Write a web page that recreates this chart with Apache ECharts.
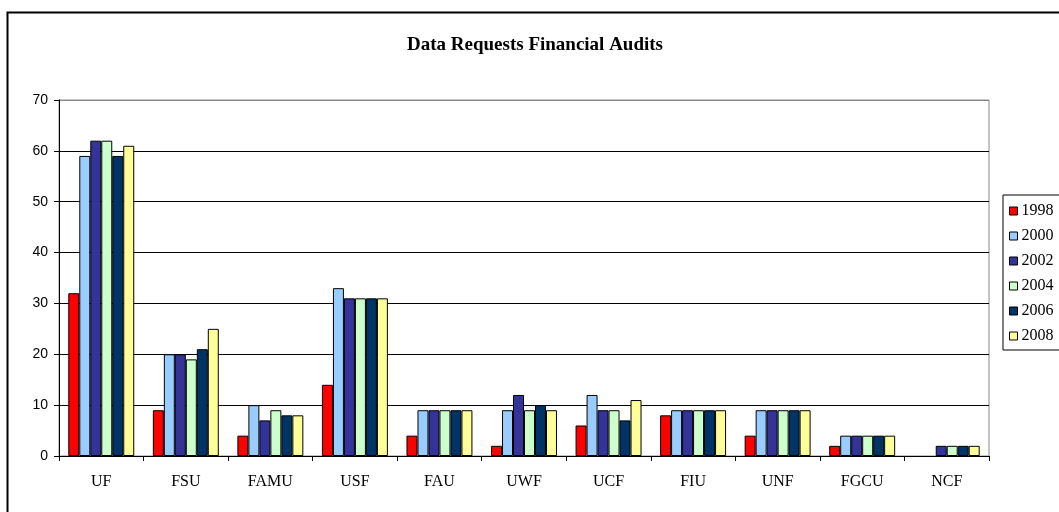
<!DOCTYPE html>
<html>
<head>
<meta charset="utf-8">
<script src="https://cdn.jsdelivr.net/npm/echarts@6/dist/echarts.min.js"></script>
<style>
  html, body { margin: 0; padding: 0; background: #fff; }
  #chart { width: 1059px; height: 512px; }
</style>
</head>
<body>
<div id="chart"></div>
<script>
// universities on the x axis
var schools = ['UF', 'FSU', 'FAMU', 'USF', 'FAU', 'UWF', 'UCF', 'FIU', 'UNF', 'FGCU', 'NCF'];
var years = ['1998', '2000', '2002', '2004', '2006', '2008'];

// values per year, in the order of schools
var y1998 = [32, 9, 4, 14, 4, 2, 6, 8, 4, 2, null];
var y2000 = [59, 20, 10, 33, 9, 9, 12, 9, 9, 4, null];
var y2002 = [62, 20, 7, 31, 9, 12, 9, 9, 9, 4, 2];
var y2004 = [62, 19, 9, 31, 9, 9, 9, 9, 9, 4, 2];
var y2006 = [59, 21, 8, 31, 9, 10, 7, 9, 9, 4, 2];
var y2008 = [61, 25, 8, 31, 9, 9, 11, 9, 9, 4, 2];

var yTicks = [0, 10, 20, 30, 40, 50, 60, 70];

var colors = ['#FF0000', '#99CCFF', '#333399', '#CCFFCC', '#003366', '#FFFF99'];
var values = [y1998, y2000, y2002, y2004, y2006, y2008];

var chart = echarts.init(document.getElementById('chart'));

var series = years.map(function (yr, i) {
    return {
        name: yr,
        type: 'bar',
        data: values[i],
        barGap: '0%',
        barCategoryGap: '22%',
        itemStyle: { color: colors[i], borderColor: '#000', borderWidth: 1 },
        emphasis: { disabled: true }
    };
});

chart.setOption({
    animation: false,
    backgroundColor: '#fff',
    color: colors,
    title: {
        text: 'Data Requests Financial Audits',
        left: 530,
        textAlign: 'center',
        top: 31,
        textStyle: { fontFamily: 'Liberation Serif', fontWeight: 'bold', fontSize: 19, color: '#000' }
    },
    legend: {
        orient: 'vertical',
        left: 1003,
        top: 195,
        padding: [8, 40, 6, 6],
        borderColor: '#000',
        borderWidth: 1,
        itemWidth: 8,
        itemHeight: 8,
        itemGap: 9,
        icon: 'rect',
        itemStyle: { borderColor: '#000', borderWidth: 1 },
        textStyle: { fontFamily: 'Liberation Serif', fontSize: 16, color: '#000', padding: [0, 0, 0, -1] },
        data: years
    },
    grid: {
        left: 59,
        right: 70,
        top: 100,
        bottom: 56,
        show: true,
        borderColor: '#888',
        borderWidth: 1,
        backgroundColor: '#fff'
    },
    xAxis: {
        type: 'category',
        data: schools,
        axisLine: { lineStyle: { color: '#000', width: 1 } },
        axisTick: { show: true, length: 5, lineStyle: { color: '#000' } },
        axisLabel: { margin: 18, fontFamily: 'Liberation Serif', fontSize: 16, color: '#000' }
    },
    yAxis: {
        type: 'value',
        min: yTicks[0],
        max: yTicks[yTicks.length - 1],
        interval: 10,
        axisLine: { show: true, lineStyle: { color: '#000', width: 1 } },
        axisTick: { show: true, length: 5, lineStyle: { color: '#000' } },
        axisLabel: { margin: 11, fontFamily: 'Liberation Sans', fontSize: 14, color: '#000' },
        splitLine: {
            show: true,
            lineStyle: { color: ['#000', '#000', '#000', '#000', '#000', '#000', '#000', '#888'], width: 1 }
        }
    },
    graphic: [{
        type: 'rect',
        left: 5,
        top: 10,
        shape: { width: 1100, height: 600 },
        style: { fill: 'none', stroke: '#000', lineWidth: 2 },
        z: 100
    }],
    series: series
});
</script>
</body>
</html>
